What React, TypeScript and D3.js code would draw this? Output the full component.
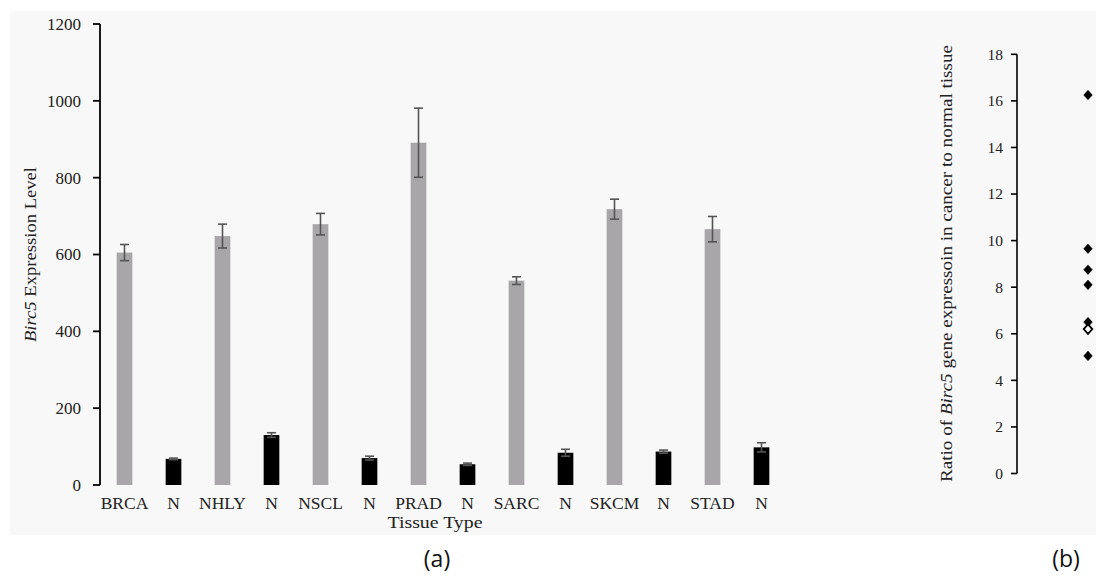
import React from "react";
import * as d3 from "d3";

const categories = ["BRCA", "N", "NHLY", "N", "NSCL", "N", "PRAD", "N", "SARC", "N", "SKCM", "N", "STAD", "N"];
const isCancer = [true, false, true, false, true, false, true, false, true, false, true, false, true, false];
const expression = [605, 68, 648, 130, 679, 70, 891, 54, 532, 84, 718, 87, 666, 98];
const errors = [21, 2, 31, 6, 28, 5, 90, 3, 10, 9, 26, 4, 33, 12];
const leftTicks = [0, 200, 400, 600, 800, 1000, 1200];

const ratios = [16.25, 9.65, 8.75, 8.1, 6.5, 6.2, 5.05];
const ratioHollow = [false, false, false, false, false, true, false];
const rightTicks = [0, 2, 4, 6, 8, 10, 12, 14, 16, 18];

const SERIF = "'Liberation Serif', 'DejaVu Serif', serif";

export default function App() {
  const W = 1096, H = 579;
  const x = d3.scaleBand<number>()
    .domain(categories.map((_, i) => i))
    .range([100, 786])
    .paddingInner(0.68)
    .paddingOuter(0.34);
  const y = d3.scaleLinear().domain([0, 1200]).range([485, 24]);
  const y2 = d3.scaleLinear().domain([0, 18]).range([473.5, 54.3]);
  const px = 1088;
  const diamond = (cx: number, cy: number) =>
    `M${cx},${cy - 4.8}L${cx + 4.3},${cy}L${cx},${cy + 4.8}L${cx - 4.3},${cy}Z`;

  return (
    <svg width={W} height={H} style={{ position: "absolute", left: 0, top: 0 }}>
      <rect x={0} y={0} width={W} height={H} fill="#ffffff" />
      <rect x={10} y={11} width={W - 10} height={524} fill="#f8f8f8" />

      {/* Panel (a) */}
      {expression.map((v, i) => {
        const bx = x(i)!;
        const bw = x.bandwidth();
        const cx = bx + bw / 2;
        const e = errors[i];
        return (
          <g key={"b" + i}>
            <rect x={bx} y={y(v)} width={bw} height={y(0) - y(v)}
              fill={isCancer[i] ? "#a8a6a9" : "#000000"} />
            <line x1={cx} x2={cx} y1={y(v + e)} y2={y(v - e)} stroke="#555" strokeWidth={1.6} />
            <line x1={cx - 4.5} x2={cx + 4.5} y1={y(v + e)} y2={y(v + e)} stroke="#555" strokeWidth={1.6} />
            <line x1={cx - 4.5} x2={cx + 4.5} y1={y(v - e)} y2={y(v - e)} stroke="#555" strokeWidth={1.6} />
          </g>
        );
      })}
      <line x1={100} x2={100} y1={y(1200)} y2={y(0)} stroke="#000" strokeWidth={1.8} />
      {leftTicks.map((t) => (
        <g key={"lt" + t}>
          <line x1={93} x2={100} y1={y(t)} y2={y(t)} stroke="#000" strokeWidth={1.8} />
          <text x={81} y={y(t)} dy="0.35em" textAnchor="end" fontFamily={SERIF} fontSize={17} fill="#222">{t}</text>
        </g>
      ))}
      {categories.map((c, i) => (
        <text key={"c" + i} x={x(i)! + x.bandwidth() / 2} y={509} textAnchor="middle"
          fontFamily={SERIF} fontSize={17.5} fill="#222">{c}</text>
      ))}
      <text x={435} y={528} textAnchor="middle" fontFamily={SERIF} fontSize={16} fill="#222"
        textLength={95} lengthAdjust="spacingAndGlyphs">Tissue Type</text>
      <text transform="translate(36,254.5) rotate(-90)" textAnchor="middle" fontFamily={SERIF} fontSize={17} fill="#222"
        textLength={175} lengthAdjust="spacingAndGlyphs">
        <tspan fontStyle="italic">Birc5</tspan> Expression Level
      </text>
      <text x={437} y={567} textAnchor="middle" fontFamily="'Open Sans', 'Noto Sans', sans-serif" fontSize={23} fill="#111">(a)</text>

      {/* Panel (b) */}
      <line x1={1017} x2={1017} y1={y2(18)} y2={y2(0)} stroke="#000" strokeWidth={1.6} />
      {rightTicks.map((t) => (
        <g key={"rt" + t}>
          <line x1={1011} x2={1017} y1={y2(t)} y2={y2(t)} stroke="#000" strokeWidth={1.6} />
          <text x={1003} y={y2(t)} dy="0.35em" textAnchor="end" fontFamily={SERIF} fontSize={15.5} fill="#222">{t}</text>
        </g>
      ))}
      {ratios.map((r, i) => (
        <path key={"p" + i} d={diamond(px, y2(r))}
          fill={ratioHollow[i] ? "#ffffff" : "#000000"} stroke="#000" strokeWidth={ratioHollow[i] ? 1.8 : 0.5} />
      ))}
      <text transform="translate(952,263.5) rotate(-90)" textAnchor="middle" fontFamily={SERIF} fontSize={16} fill="#222"
        textLength={437} lengthAdjust="spacingAndGlyphs">
        Ratio of <tspan fontStyle="italic">Birc5</tspan> gene expressoin in cancer to normal tissue
      </text>
      <text x={1066} y={567} textAnchor="middle" fontFamily="'Open Sans', 'Noto Sans', sans-serif" fontSize={23} fill="#111">(b)</text>
    </svg>
  );
}
